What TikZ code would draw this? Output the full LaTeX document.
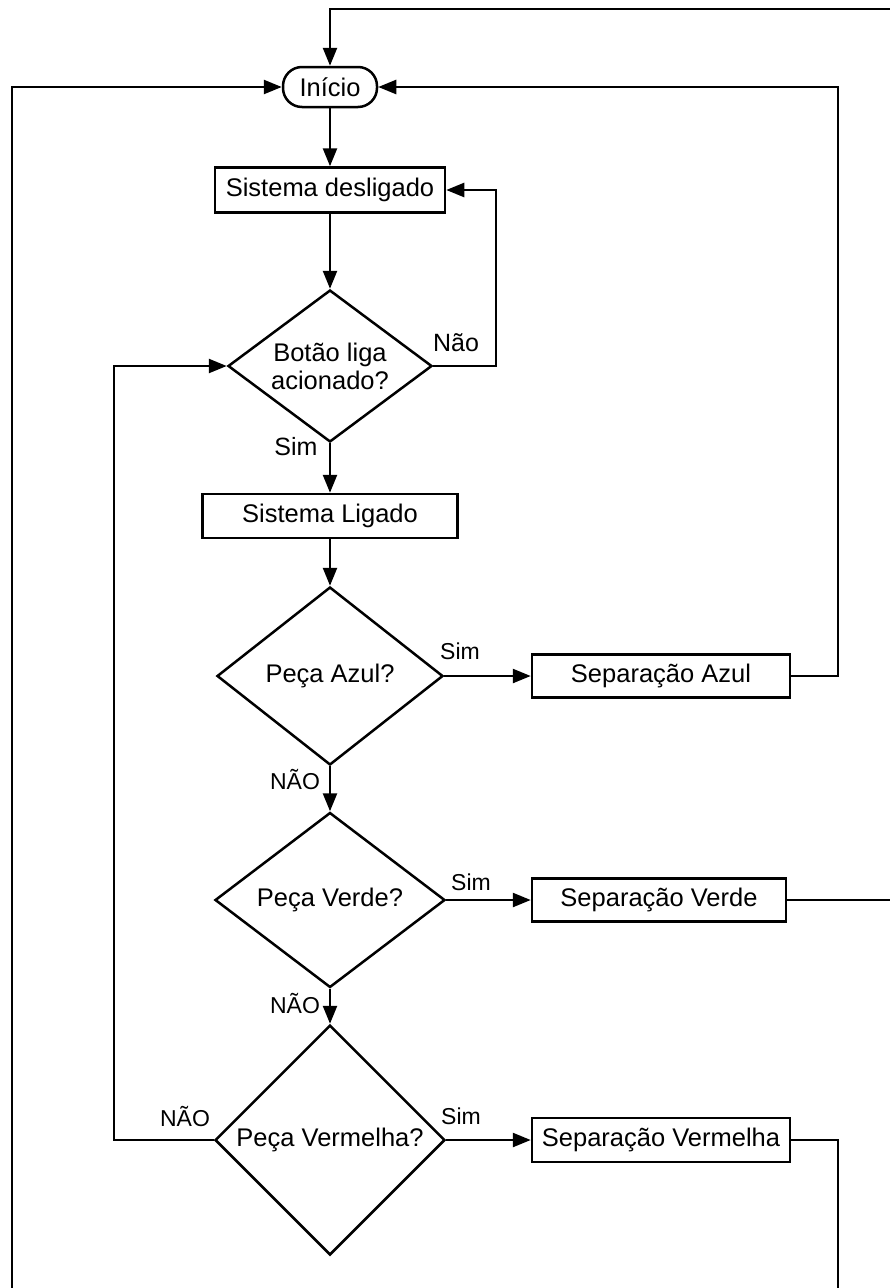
\documentclass[tikz,border=0pt]{standalone}
\usepackage{fontspec}
\setmainfont{Liberation Sans}
\usetikzlibrary{shapes.geometric,arrows.meta}
\tikzset{
  every node/.style={font=\fontsize{25.5}{29}\selectfont},
  base/.style={draw, line width=2.5pt, inner sep=0pt},
  box/.style={base, rectangle},
  term/.style={base, rectangle, rounded corners=19pt},
  dec/.style={base, diamond, align=center},
  lbl/.style={font=\fontsize{23}{27}\selectfont, inner sep=0pt},
  biglbl/.style={font=\fontsize{25}{29}\selectfont, inner sep=0pt},
  conn/.style={line width=2.5pt},
  arr/.style={conn, -{Triangle[length=18pt,width=14pt]}}
}
\begin{document}
\begin{tikzpicture}[x=1pt,y=-1pt]
\useasboundingbox (0,0) rectangle (890,1288);
\fill[white] (0,0) rectangle (890,1288);

\node[term, minimum width=94, minimum height=40] (inicio) at (330,87) {Início};
\node[box, minimum width=230, minimum height=45] (desl) at (330,190) {Sistema desligado};
\node[dec, inner sep=-12pt, minimum width=204, minimum height=152] (botao) at (330,366) {Botão liga\\[-1pt]acionado?};
\node[box, minimum width=255, minimum height=44] (lig) at (330,516) {Sistema Ligado};
\node[dec, minimum width=226, minimum height=178] (azul) at (330,676) {Peça Azul?};
\node[box, minimum width=258, minimum height=43] (sazul) at (661,676) {Separação Azul};
\node[dec, minimum width=230, minimum height=175] (verde) at (330,900) {Peça Verde?};
\node[box, minimum width=254, minimum height=43] (sverde) at (659,900) {Separação Verde};
\node[dec, minimum width=230, minimum height=230] (verm) at (330,1140) {Peça Vermelha?};
\node[box, minimum width=258, minimum height=44] (sverm) at (661,1140) {Separação Vermelha};

\coordinate (topR) at (890,9);
\coordinate (verdeR) at (890,900);
\coordinate (bottomL) at (12,1288);
\coordinate (bottomR) at (838,1288);

% main flow
\draw[arr] (inicio) -- (desl);
\draw[arr] (desl) -- (botao);
\draw[arr] (botao) -- (lig);
\draw[arr] (lig) -- (azul);
\draw[arr] (azul) -- (verde);
\draw[arr] (verde) -- (verm);

% Sim branches
\draw[arr] (azul.east) -- (sazul.west);
\draw[arr] (verde.east) -- (sverde.west);
\draw[arr] (verm.east) -- (sverm.west);

% Não loop back to Sistema desligado
\draw[arr] (botao.east) -- (496,366) -- (496,190) -- (desl.east);

% Peça Vermelha NÃO back to Botão
\draw[arr] (verm.west) -- (114,1140) -- (114,366) -- (botao.west);

% Separação Azul back to Início
\draw[arr] (sazul.east) -- (838,676) -- (838,87) -- (inicio.east);

% Separação Verde, off the right edge, back to Início top
\draw[conn] (sverde.east) -- (verdeR);
\draw[arr] (topR) -- (330,9) -- (inicio.north);

% Separação Vermelha, off the bottom, back to Início left
\draw[conn] (sverm.east) -- (838,1140) -- (bottomR);
\draw[arr] (bottomL) -- (12,87) -- (inicio.west);

% labels
\node[biglbl] (l1) at (456,343) {Não};
\node[biglbl] (l2) at (296,447) {Sim};
\node[lbl] (l3) at (460,651) {Sim};
\node[lbl] (l4) at (295,780) {NÃO};
\node[lbl] (l5) at (471,882) {Sim};
\node[lbl] (l6) at (295,1004) {NÃO};
\node[lbl] (l7) at (185,1117) {NÃO};
\node[lbl] (l8) at (461,1116) {Sim};
\end{tikzpicture}
\end{document}
